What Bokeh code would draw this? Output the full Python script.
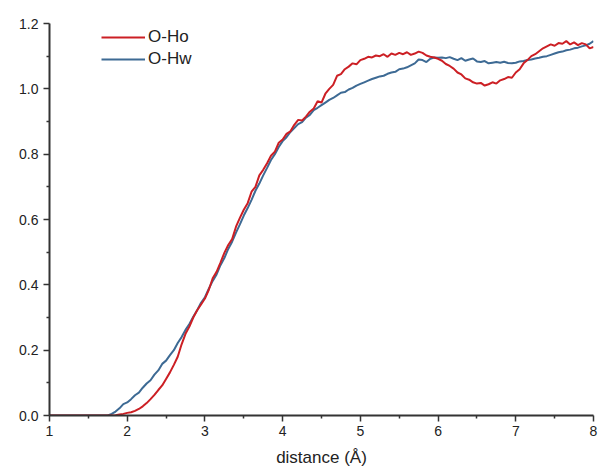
import numpy as np
from bokeh.plotting import figure
from bokeh.models import (ColumnDataSource, Range1d, FixedTicker, NumeralTickFormatter,
                          Legend, LegendItem)
from bokeh.embed import file_html
from bokeh.resources import INLINE

# distance grid (Å), step 0.05 from 1 to 8
distance = np.round(np.linspace(1.0, 8.0, 141), 2)

o_hw = [0.0] * 16 + [
    0.005, 0.012, 0.022, 0.035, 0.040, 0.050, 0.062, 0.070, 0.085, 0.098,
    0.108, 0.125, 0.138, 0.158, 0.168, 0.185, 0.200, 0.222, 0.240, 0.262,
    0.280, 0.302, 0.322, 0.345, 0.362, 0.388, 0.412, 0.432, 0.460, 0.482,
    0.510, 0.532, 0.560, 0.585, 0.612, 0.635, 0.660, 0.688, 0.710, 0.735,
    0.758, 0.782, 0.800, 0.822, 0.840, 0.852, 0.868, 0.880, 0.892, 0.898,
    0.912, 0.920, 0.935, 0.942, 0.950, 0.958, 0.966, 0.972, 0.980, 0.988,
    0.990, 0.998, 1.003, 1.010, 1.015, 1.020, 1.025, 1.030, 1.034, 1.038,
    1.040, 1.046, 1.050, 1.052, 1.060, 1.062, 1.066, 1.072, 1.078, 1.090,
    1.088, 1.082, 1.092, 1.096, 1.095, 1.096, 1.094, 1.097, 1.092, 1.088,
    1.094, 1.086, 1.090, 1.093, 1.084, 1.082, 1.085, 1.078, 1.080, 1.082,
    1.080, 1.083, 1.079, 1.078, 1.080, 1.084, 1.085, 1.088, 1.090, 1.093,
    1.095, 1.098, 1.100, 1.104, 1.108, 1.112, 1.114, 1.118, 1.120, 1.124,
    1.126, 1.130, 1.133, 1.138, 1.146,
]

o_ho = [0.0] * 17 + [
    0.001, 0.003, 0.005, 0.008, 0.010, 0.014, 0.020, 0.028, 0.038, 0.050,
    0.063, 0.078, 0.092, 0.112, 0.132, 0.155, 0.180, 0.218, 0.250, 0.272,
    0.300, 0.322, 0.340, 0.358, 0.385, 0.420, 0.440, 0.468, 0.498, 0.522,
    0.540, 0.578, 0.605, 0.630, 0.650, 0.685, 0.700, 0.735, 0.752, 0.772,
    0.795, 0.808, 0.835, 0.845, 0.862, 0.870, 0.890, 0.905, 0.903, 0.915,
    0.930, 0.940, 0.962, 0.958, 0.985, 1.000, 1.012, 1.040, 1.045, 1.060,
    1.068, 1.078, 1.075, 1.088, 1.092, 1.098, 1.096, 1.102, 1.100, 1.106,
    1.098, 1.108, 1.104, 1.110, 1.106, 1.112, 1.104, 1.108, 1.114, 1.110,
    1.102, 1.098, 1.096, 1.092, 1.086, 1.076, 1.070, 1.062, 1.050, 1.044,
    1.032, 1.028, 1.020, 1.016, 1.018, 1.010, 1.014, 1.020, 1.016, 1.026,
    1.030, 1.036, 1.034, 1.050, 1.060, 1.078, 1.088, 1.100, 1.106, 1.115,
    1.124, 1.130, 1.136, 1.132, 1.140, 1.138, 1.146, 1.136, 1.142, 1.134,
    1.140, 1.136, 1.124, 1.128,
]

series_names = ["O-Ho", "O-Hw"]
series_colors = ["#cc1f24", "#3d6a94"]
x_label = "distance (Å)"
x_ticks = [1, 2, 3, 4, 5, 6, 7, 8]
x_minor = [1.5, 2.5, 3.5, 4.5, 5.5, 6.5, 7.5]
y_ticks = [0.0, 0.2, 0.4, 0.6, 0.8, 1.0, 1.2]
y_minor = [0.1, 0.3, 0.5, 0.7, 0.9, 1.1]

src = ColumnDataSource(dict(x=distance, ho=o_ho, hw=o_hw))

p = figure(width=602, height=469, output_backend="svg", toolbar_location=None,
           x_range=Range1d(1, 8), y_range=Range1d(0, 1.2),
           min_border_left=49, min_border_right=9, min_border_top=23, min_border_bottom=53)
p.outline_line_color = None
p.xgrid.visible = False
p.ygrid.visible = False
p.background_fill_color = "white"
p.border_fill_color = "white"

r_hw = p.line("x", "hw", source=src, line_color=series_colors[1], line_width=2)
r_ho = p.line("x", "ho", source=src, line_color=series_colors[0], line_width=2)

font = "Liberation Sans"
p.xaxis.ticker = FixedTicker(ticks=x_ticks, minor_ticks=x_minor)
p.yaxis.ticker = FixedTicker(ticks=y_ticks, minor_ticks=y_minor)
p.yaxis.formatter = NumeralTickFormatter(format="0.0")
for ax in (p.xaxis[0], p.yaxis[0]):
    ax.axis_line_color = "#333333"
    ax.axis_line_width = 2
    ax.major_tick_line_color = "#333333"
    ax.major_tick_line_width = 1.5
    ax.minor_tick_line_color = "#333333"
    ax.minor_tick_line_width = 1.5
    ax.major_tick_in = 0
    ax.major_tick_out = 6
    ax.minor_tick_in = 0
    ax.minor_tick_out = 3
    ax.major_label_text_font = font
    ax.major_label_text_font_size = "14px"
    ax.major_label_text_color = "#222222"
p.xaxis.major_label_standoff = 4
p.yaxis.major_label_standoff = 5
p.xaxis.axis_label = x_label
p.xaxis.axis_label_text_font = font
p.xaxis.axis_label_text_font_size = "17px"
p.xaxis.axis_label_text_font_style = "normal"
p.xaxis.axis_label_text_color = "#222222"
p.xaxis.axis_label_standoff = 9

legend = Legend(items=[LegendItem(label=series_names[0], renderers=[r_ho]),
                       LegendItem(label=series_names[1], renderers=[r_hw])],
                location=(52, 346))
legend.border_line_color = None
legend.background_fill_alpha = 0
legend.padding = 0
legend.margin = 0
legend.spacing = 2
legend.glyph_width = 44
legend.glyph_height = 20
legend.label_height = 20
legend.label_standoff = 3
legend.label_text_font = font
legend.label_text_font_size = "17px"
legend.label_text_color = "#222222"
p.add_layout(legend, "center")

open("out.html", "w").write(file_html(p, INLINE))
